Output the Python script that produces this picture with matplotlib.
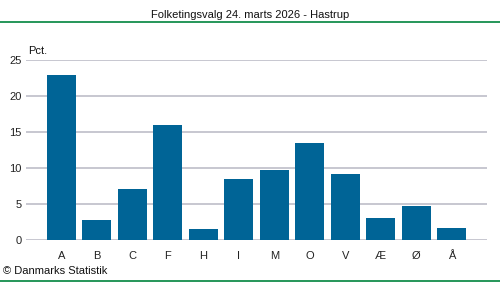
import matplotlib
matplotlib.use("Agg")
import matplotlib.pyplot as plt
from matplotlib.lines import Line2D

# data
parties = ["A", "B", "C", "F", "H", "I", "M", "O", "V", "Æ", "Ø", "Å"]
pct = [22.9, 2.8, 7.0, 15.9, 1.5, 8.5, 9.7, 13.4, 9.1, 3.1, 4.7, 1.7]
yticks = [0, 5, 10, 15, 20, 25]

plt.rcParams["font.family"] = ["Liberation Sans", "DejaVu Sans"]

fig = plt.figure(figsize=(5, 2.82), dpi=100)
ax = fig.add_axes([0.052, 0.149, 0.922, 0.64])

ax.bar(range(len(parties)), pct, width=0.82, color="#006496", zorder=3)
ax.set_xlim(-1, len(parties))
ax.set_ylim(0, 25)
ax.set_yticks(yticks)
ax.set_xticks(range(len(parties)))
ax.set_xticklabels(parties)
ax.tick_params(axis="both", length=0, labelsize=8, colors="#222222")
ax.tick_params(axis="x", pad=8)
ax.tick_params(axis="y", pad=3)
ax.grid(axis="y", color="#BEBEC8", linewidth=1.2, zorder=0)
for s in ax.spines.values():
    s.set_visible(False)

fig.text(0.5, 0.947, "Folketingsvalg 24. marts 2026 - Hastrup", ha="center",
         va="center", fontsize=8, color="#111111")
fig.text(0.056, 0.82, "Pct.", ha="left", va="center", fontsize=8, color="#111111")
fig.text(0.006, 0.04, "© Danmarks Statistik", ha="left", va="center",
         fontsize=8, color="#111111")

fig.add_artist(Line2D([0, 1], [0.922, 0.922], color="#00843D", linewidth=1.2,
                      transform=fig.transFigure))
fig.add_artist(Line2D([0, 1], [0.005, 0.005], color="#00843D", linewidth=1.2,
                      transform=fig.transFigure))

fig.savefig("out.png", dpi=100)
